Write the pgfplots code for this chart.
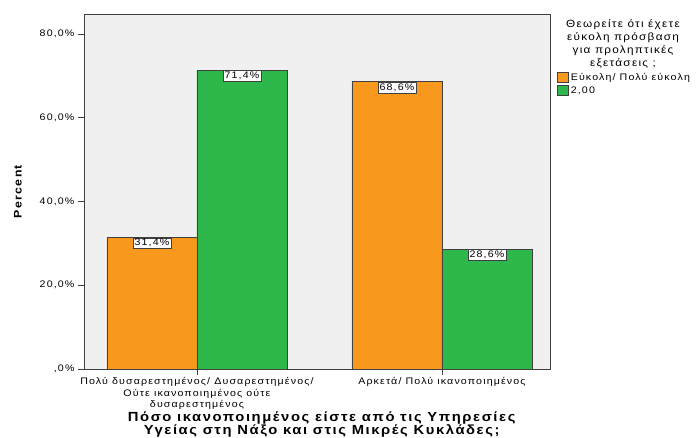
\documentclass[border=0pt]{standalone}
\usepackage{pgfplots}
\pgfplotsset{compat=1.18}
\usepackage{fontspec}
\setmainfont{Liberation Sans}[LetterSpace=12, FakeStretch=1.12]
\definecolor{barorange}{RGB}{248,152,29}
\definecolor{bargreen}{RGB}{46,184,76}
\definecolor{axisgray}{RGB}{64,64,64}
\definecolor{plotbg}{RGB}{240,240,240}
\begin{document}
\begin{tikzpicture}
\path[use as bounding box] (-84pt,-69pt) rectangle (616pt,369pt);
\begin{axis}[
  at={(0pt,0pt)}, anchor=south west,
  scale only axis, width=466pt, height=355pt,
  ybar=0pt, bar width=90pt,
  xmin=-0.461, xmax=1.441,
  ymin=0, ymax=84.78,
  axis background/.style={fill=plotbg},
  axis line style={axisgray, line width=0.8pt},
  tick style={axisgray, line width=0.6pt},
  major tick length=6pt,
  tick align=outside,
  xtick pos=bottom, ytick pos=left,
  xtick={0,1},
  xticklabels={{Πολύ δυσαρεστημένος/ Δυσαρεστημένος/\\Ούτε ικανοποιημένος ούτε\\δυσαρεστημένος},{Αρκετά/ Πολύ ικανοποιημένος}},
  xticklabel style={align=center, font=\fontsize{9.5}{11.5}\selectfont, yshift=1pt},
  ytick={0,20,40,60,80},
  yticklabels={{,0\%},{20,0\%},{40,0\%},{60,0\%},{80,0\%}},
  yticklabel style={font=\fontsize{9.5}{11.5}\selectfont},
  ylabel={Percent},
  ylabel style={at={(axis description cs:-0.1416,0.5)}, anchor=center, font=\bfseries\fontsize{11}{13}\selectfont},
  xlabel={Πόσο ικανοποιημένος είστε από τις Υπηρεσίες\\Υγείας στη Νάξο και στις Μικρές Κυκλάδες;},
  xlabel style={at={(axis description cs:0.51,-0.157)}, anchor=center, align=center, font=\bfseries\fontsize{13.2}{13.5}\selectfont},
  nodes near coords={\pgfmathprintnumber[fixed,fixed zerofill,precision=1,use comma,assume math mode=true]{\pgfplotspointmeta}\%},
  every node near coord/.append style={anchor=north, fill=white, draw=axisgray, line width=0.6pt, inner sep=1.5pt, font=\fontsize{9.5}{11}\selectfont, text=black},
  legend style={at={(1.015,0.84)}, anchor=north west, draw=none, fill=none, font=\fontsize{9.5}{11}\selectfont, row sep=1pt, inner sep=0pt},
  legend cell align=left,
  clip=false,
]
\addplot[fill=barorange, draw=axisgray, line width=0.6pt, legend image code/.code={\draw[fill=barorange,draw=axisgray,line width=0.6pt] (0pt,-5pt) rectangle (11pt,5pt);}] coordinates {(0,31.4) (1,68.6)};
\addplot[fill=bargreen, draw=axisgray, line width=0.6pt, legend image code/.code={\draw[fill=bargreen,draw=axisgray,line width=0.6pt] (0pt,-5pt) rectangle (11pt,5pt);}] coordinates {(0,71.4) (1,28.6)};
\legend{Εύκολη/ Πολύ εύκολη, {2,00}}
\end{axis}
\node[align=center, font=\fontsize{10.5}{13}\selectfont] at (539pt,325pt) {Θεωρείτε ότι έχετε\\εύκολη πρόσβαση\\για προληπτικές\\εξετάσεις ;};
\end{tikzpicture}
\end{document}
